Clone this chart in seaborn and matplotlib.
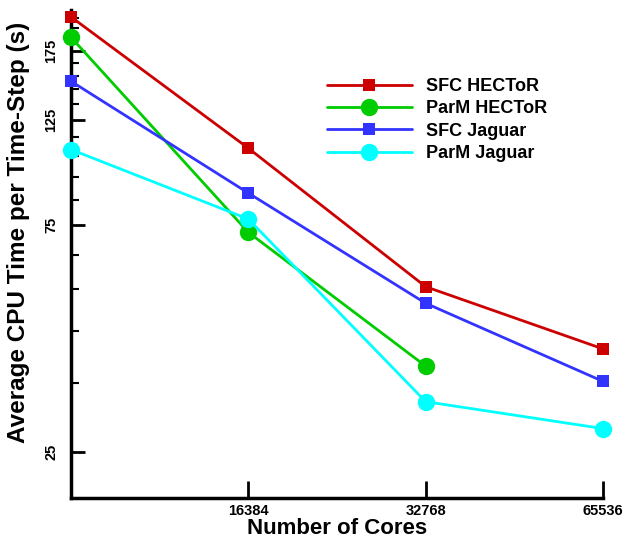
import numpy as np
import pandas as pd
import matplotlib
matplotlib.use("Agg")
import matplotlib.pyplot as plt
from matplotlib.ticker import FixedLocator, NullFormatter, FixedFormatter
import seaborn as sns

sns.set_style("white")
plt.rcParams['font.family'] = ['Liberation Sans', 'DejaVu Sans']
plt.rcParams['text.color'] = 'black'
plt.rcParams['axes.labelcolor'] = 'black'
plt.rcParams['xtick.color'] = 'black'
plt.rcParams['ytick.color'] = 'black'

cores = [8192, 16384, 32768, 65536]
sfc_hector = [206, 109, 55.7, 41.2]
parm_hector = [186.6, 72.5, 37.9, np.nan]
sfc_jaguar = [150.8, 87.7, 51.4, 35.2]
parm_jaguar = [108.3, 77.3, 31.9, 28.0]

series_names = ["SFC HECToR", "ParM HECToR", "SFC Jaguar", "ParM Jaguar"]
series_vals = [sfc_hector, parm_hector, sfc_jaguar, parm_jaguar]
colors = ["#cc0000", "#00cc00", "#3333ff", "#00ffff"]
markers = ["s", "o", "s", "o"]
msizes = [9, 12.5, 9, 12.5]

xticks = [16384, 32768, 65536]
yticks = [25, 75, 125, 175]
yminor = [35, 45, 55, 65, 85, 95, 105, 115, 135, 145, 155, 165, 185, 195, 205]

fig = plt.figure(figsize=(6.29, 5.39), dpi=100)
ax = fig.add_axes([0.1129, 0.0761, 0.8458, 0.9053])

for name, vals, c, m, ms in zip(series_names, series_vals, colors, markers, msizes):
    df = pd.DataFrame({"cores": cores, "time": vals}).dropna()
    sns.lineplot(data=df, x="cores", y="time", ax=ax, color=c, marker=m,
                 markersize=ms, markeredgewidth=0, linewidth=2, label=name,
                 clip_on=False, zorder=3)

ax.set_xscale("log")
ax.set_yscale("log")
ax.set_xlim(8192, 65536)
ax.set_ylim(20, 213)

ax.xaxis.set_major_locator(FixedLocator(xticks))
ax.xaxis.set_major_formatter(FixedFormatter([str(v) for v in xticks]))
ax.xaxis.set_minor_locator(FixedLocator([]))
ax.yaxis.set_major_locator(FixedLocator(yticks))
ax.yaxis.set_major_formatter(FixedFormatter([str(v) for v in yticks]))
ax.yaxis.set_minor_locator(FixedLocator(yminor))
ax.yaxis.set_minor_formatter(NullFormatter())

for s in ["top", "right"]:
    ax.spines[s].set_visible(False)
for s in ["left", "bottom"]:
    ax.spines[s].set_linewidth(2.5)
    ax.spines[s].set_color("black")

ax.tick_params(axis="x", which="major", direction="in", length=12, width=2,
               labelsize=10.5, pad=4, bottom=True, colors="black")
ax.tick_params(axis="y", which="major", direction="in", length=10, width=2,
               labelsize=10.5, pad=9, left=True, colors="black")
ax.tick_params(axis="y", which="minor", direction="in", length=6, width=1.5,
               left=True, colors="black")
for lab in ax.get_xticklabels() + ax.get_yticklabels():
    lab.set_fontweight("bold")
for lab in ax.get_yticklabels():
    lab.set_rotation(90)
    lab.set_va("center")

ax.set_xlabel("Number of Cores", fontsize=16, fontweight="bold", color="black")
ax.xaxis.set_label_coords(0.5, -0.04)
ax.set_ylabel("Average CPU Time per Time-Step (s)", fontsize=17.5,
              fontweight="bold", color="black")
ax.yaxis.set_label_coords(-0.077, 0.545)

leg = ax.legend(loc="upper left", bbox_to_anchor=(0.481, 0.861), frameon=False,
                fontsize=13, handlelength=4.7, handletextpad=0.78,
                labelspacing=0.3, borderaxespad=0, borderpad=0)
for t in leg.get_texts():
    t.set_fontweight("bold")
    t.set_color("black")

fig.savefig("out.png", dpi=100)
